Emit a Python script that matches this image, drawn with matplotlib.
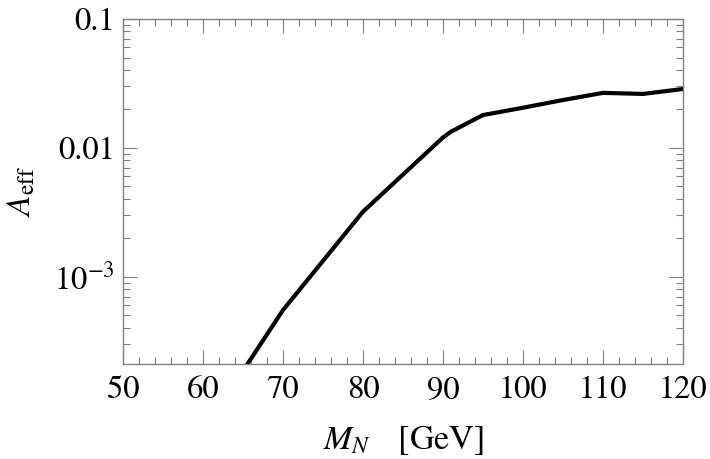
import matplotlib
matplotlib.use("Agg")
import matplotlib.pyplot as plt
from matplotlib.ticker import FixedLocator, MultipleLocator, NullFormatter

plt.rcParams['font.family'] = ['STIXGeneral', 'DejaVu Serif']
plt.rcParams['mathtext.fontset'] = 'stix'

mass = [65, 70, 80, 90, 91, 95, 100, 105, 110, 115, 120]
a_eff = [1.86e-4, 5.5e-4, 3.19e-3, 0.0120, 0.0133, 0.0179, 0.0204, 0.0234, 0.0266, 0.0261, 0.0285]

xticks = [50, 60, 70, 80, 90, 100, 110, 120]
yticks = [1e-3, 1e-2, 1e-1]
yticklabels = [r'$10^{-3}$', '0.01', '0.1']

fig = plt.figure(figsize=(7.10, 4.59), dpi=100)
ax = fig.add_axes([0.1732, 0.2063, 0.962 - 0.1732, 0.9593 - 0.2063])
ax.plot(mass, a_eff, color='black', lw=3, solid_joinstyle='miter')
ax.set_yscale('log')
ax.set_xlim(50, 120)
ax.set_ylim(2.09e-4, 0.1)

ax.set_xticks(xticks)
ax.set_xticklabels([str(t) for t in xticks])
ax.xaxis.set_minor_locator(MultipleLocator(2))
ax.set_yticks(yticks)
ax.set_yticklabels(yticklabels)
minor = [m * 10.0 ** e for e in (-4, -3, -2) for m in range(2, 10)]
ax.yaxis.set_minor_locator(FixedLocator(minor))
ax.yaxis.set_minor_formatter(NullFormatter())

gray = '#808080'
for s in ax.spines.values():
    s.set_color(gray)
    s.set_linewidth(1.0)
ax.tick_params(which='both', direction='in', top=True, right=True, colors=gray,
               labelcolor='black', labelsize=23.5, width=0.8)
ax.tick_params(which='major', length=10)
ax.tick_params(which='minor', length=5)
ax.tick_params(axis='x', pad=8)
ax.tick_params(axis='y', pad=6)

ax.set_xlabel(r'$M_N\ \ \ \,[\mathrm{GeV}]$', fontsize=24.5, labelpad=14)
ax.set_ylabel(r'$A_{\mathrm{eff}}$', fontsize=24, labelpad=12)

fig.savefig('out.png', dpi=100)
